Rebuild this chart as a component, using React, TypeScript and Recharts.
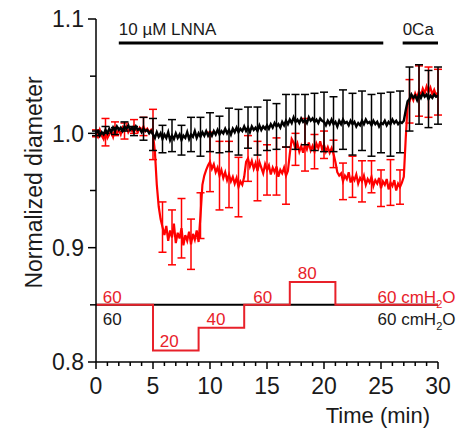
import React from "react";
import {
  ComposedChart, Line, XAxis, YAxis, ErrorBar, ReferenceLine, ReferenceDot,
} from "recharts";

const FONT = "'Liberation Sans', Arial, Helvetica, sans-serif";
const RED = "#ff0000";
const RED_TEXT = "#e8212a";
const INK = "#1a1a1a";

// diameter sampled every 10 s (1/6 min), 0 .. 30 min
const SAMPLE_MIN = 1 / 6;

const redDiameter = [
  1.000, 0.997, 1.003, 0.998, 0.995, 1.001, 0.996, 0.999, 1.002, 0.997, 1.004, 1.000,
  1.003, 0.999, 1.005, 1.002, 1.006, 1.001, 1.004, 1.002, 1.006, 1.003, 1.001, 1.005,
  1.003, 1.006, 1.002, 1.004, 1.001, 1.003,
  0.999, 0.984, 0.955, 0.936, 0.925, 0.918,
  0.911, 0.919, 0.906, 0.915, 0.909, 0.921, 0.904, 0.913, 0.908, 0.917, 0.902, 0.911,
  0.906, 0.914, 0.903, 0.912, 0.907, 0.915, 0.905,
  0.928, 0.955, 0.963, 0.968, 0.972, 0.975,
  0.969, 0.973, 0.966, 0.970, 0.963, 0.968, 0.961, 0.966, 0.959, 0.964, 0.958, 0.962,
  0.956, 0.961, 0.953, 0.958, 0.955,
  0.962, 0.975,
  0.978, 0.971, 0.976, 0.969, 0.974, 0.967, 0.975, 0.970, 0.965, 0.973, 0.968, 0.972,
  0.964, 0.970, 0.966, 0.971, 0.962, 0.968, 0.965, 0.970, 0.963, 0.967,
  0.982, 0.995, 0.992,
  0.986, 0.991, 0.984, 0.989, 0.983, 0.990, 0.986, 0.992, 0.985, 0.989, 0.984, 0.991,
  0.987, 0.993, 0.986, 0.990, 0.984, 0.988, 0.983, 0.987, 0.982,
  0.975, 0.966, 0.963,
  0.965, 0.958, 0.963, 0.960, 0.966, 0.957, 0.962, 0.959, 0.964, 0.956, 0.961, 0.958,
  0.963, 0.955, 0.960, 0.957, 0.962, 0.954, 0.959, 0.956, 0.961, 0.952, 0.958, 0.955,
  0.960, 0.951, 0.957, 0.954, 0.959, 0.950, 0.956, 0.953, 0.957,
  0.962, 0.995, 1.025,
  1.028, 1.033, 1.029, 1.035, 1.031, 1.037, 1.033, 1.039, 1.035, 1.041, 1.036, 1.040,
  1.034, 1.038, 1.033, 1.036,
];

const blackDiameter = [
  1.000, 1.002, 0.998, 1.001, 0.999, 1.003, 1.000, 1.004, 1.001, 1.005, 1.002, 1.006,
  1.003, 1.005, 1.002, 1.006, 1.004, 1.007, 1.003, 1.005, 1.002, 1.006, 1.003, 1.004,
  1.001, 1.004, 1.002, 1.003, 1.000, 1.002,
  0.999, 0.996, 1.001, 0.997, 1.000, 0.995, 0.999, 0.996, 1.001, 0.994, 0.998, 0.995,
  1.000, 0.996, 0.999, 0.994, 0.998, 0.996, 1.001, 0.995, 0.999, 0.997, 1.002, 0.996,
  1.000, 0.997, 1.001, 0.998, 1.002, 0.998,
  1.001, 0.998, 1.002, 0.999, 1.003, 0.999, 1.002, 1.000, 1.004, 1.000, 1.003, 0.999,
  1.004, 1.001, 1.005, 1.001, 1.004, 1.002, 1.006, 1.002, 1.005, 1.001, 1.006, 1.003,
  1.005, 1.002, 1.007, 1.003, 1.006, 1.004,
  1.007, 1.004, 1.008, 1.005, 1.009, 1.006, 1.008, 1.005, 1.010, 1.007, 1.011, 1.008,
  1.012, 1.009, 1.014, 1.010, 1.012, 1.009, 1.013, 1.010, 1.012, 1.009, 1.014, 1.011,
  1.013, 1.010, 1.012, 1.009, 1.013, 1.011,
  1.010, 1.007, 1.011, 1.008, 1.012, 1.008, 1.010, 1.006, 1.011, 1.008, 1.012, 1.009,
  1.010, 1.007, 1.011, 1.008, 1.010, 1.006, 1.009, 1.007, 1.011, 1.008, 1.012, 1.009,
  1.010, 1.007, 1.011, 1.008, 1.010, 1.006, 1.009, 1.008, 1.011, 1.007, 1.010, 1.008,
  1.012, 1.009, 1.011, 1.008, 1.010, 1.009, 1.011,
  1.020, 1.028,
  1.030, 1.034, 1.031, 1.033, 1.029, 1.034, 1.031, 1.035, 1.032, 1.034, 1.030, 1.033,
  1.031, 1.034, 1.032, 1.033,
];

// SEM, one bar every 50 s (every 5th sample)
const redSem = [
  0.003, 0.012, 0.006, 0.007, 0.006, 0.008, 0.022, 0.022, 0.024, 0.026, 0.022, 0.020,
  0.026, 0.030, 0.029, 0.026, 0.020, 0.026, 0.022, 0.025, 0.025, 0.014, 0.023, 0.015,
  0.012, 0.012, 0.016, 0.018, 0.018, 0.014, 0.016, 0.020, 0.015, 0.019, 0.022, 0.022,
  0.020,
];
const blackSem = [
  0.002, 0.003, 0.003, 0.004, 0.004, 0.010, 0.014, 0.012, 0.014, 0.013, 0.015, 0.017,
  0.017, 0.016, 0.019, 0.020, 0.018, 0.021, 0.022, 0.020, 0.023, 0.024, 0.022, 0.025,
  0.026, 0.024, 0.026, 0.027, 0.026, 0.027, 0.026, 0.028, 0.027, 0.028, 0.026, 0.025,
  0.025,
];

// intraluminal pressure protocol (cmH2O)
const stepTimes = [0, 5, 9, 13, 17, 21, 30];
const redPressure = [60, 20, 40, 60, 80, 60, 60];
const blackPressure = [60, 60, 60, 60, 60, 60, 60];

const xTicks = [
  0, 1, 2, 3, 4, 5, 6, 7, 8, 9, 10, 11, 12, 13, 14, 15,
  16, 17, 18, 19, 20, 21, 22, 23, 24, 25, 26, 27, 28, 29, 30,
];
const yTicks = [0.8, 0.85, 0.9, 0.95, 1.0, 1.05, 1.1];
const yLabelTicks = [0.8, 0.9, 1.0, 1.1];

const data = redDiameter.map((r, i) => ({
  t: i * SAMPLE_MIN,
  red: r,
  black: blackDiameter[i],
  redErr: i % 5 === 0 ? redSem[i / 5] : undefined,
  blackErr: i % 5 === 0 ? blackSem[i / 5] : undefined,
}));

// pressure trace drawn on the diameter axis: 60 cmH2O sits at 0.85
const pressureToY = (p: number) => 0.79 + p / 1000;
const stepData = stepTimes.map((t, i) => ({
  t,
  pRed: pressureToY(redPressure[i]),
  pBlack: pressureToY(blackPressure[i]),
}));

const notes = [
  { t: 0.6, y: 0.852, text: "60", color: RED_TEXT },
  { t: 0.6, y: 0.832, text: "60", color: INK },
  { t: 5.6, y: 0.8128, text: "20", color: RED_TEXT },
  { t: 9.7, y: 0.832, text: "40", color: RED_TEXT },
  { t: 13.8, y: 0.852, text: "60", color: RED_TEXT },
  { t: 17.7, y: 0.8725, text: "80", color: RED_TEXT },
  { t: 24.7, y: 0.852, text: "60 cmH2O", color: RED_TEXT },
  { t: 24.7, y: 0.832, text: "60 cmH2O", color: INK },
  { t: 2, y: 1.086, text: "10 µM LNNA", color: INK },
  { t: 26.9, y: 1.086, text: "0Ca", color: INK },
];

const XTick = (props: any) => {
  const { x, y, payload } = props;
  const major = payload.value % 5 === 0;
  return (
    <g>
      <line x1={x} x2={x} y1={y} y2={y + (major ? 7 : 4)} stroke="#000" strokeWidth={1.5} />
      {major && (
        <text x={x} y={y + 32} textAnchor="middle" fontSize={23} fontFamily={FONT} fill={INK}>
          {payload.value}
        </text>
      )}
    </g>
  );
};

const YTick = (props: any) => {
  const { x, y, payload } = props;
  const v = payload.value;
  const labeled = yLabelTicks.some((l) => Math.abs(l - v) < 1e-6);
  return (
    <g>
      <line x1={x - (labeled ? 8 : 6)} x2={x} y1={y} y2={y} stroke="#000" strokeWidth={1.5} />
      {labeled && (
        <text x={x - 12} y={y} dy="0.36em" textAnchor="end" fontSize={23} fontFamily={FONT} fill={INK}>
          {v.toFixed(1)}
        </text>
      )}
    </g>
  );
};

const NoteShape = (note: { text: string; color: string }) => (p: any) => {
  const isUnit = note.text.endsWith("cmH2O");
  return (
    <text x={p.cx} y={p.cy} fontSize={17} fontFamily={FONT} fill={note.color}>
      {isUnit ? (
        <>
          {note.text.replace("H2O", "H")}
          <tspan fontSize={11} dy={5}>2</tspan>
          <tspan dy={-5}>O</tspan>
        </>
      ) : (
        note.text
      )}
    </text>
  );
};

export default function App() {
  return (
    <div style={{ position: "absolute", left: 0, top: 0 }}>
      <ComposedChart
        width={464}
        height={432}
        data={data}
        margin={{ top: 19, right: 26, bottom: 0, left: 36 }}
      >
        <XAxis
          dataKey="t"
          type="number"
          domain={[0, 30]}
          ticks={xTicks}
          interval={0}
          allowDataOverflow
          tickSize={0}
          tickMargin={0}
          tickLine={false}
          tick={<XTick />}
          axisLine={{ stroke: "#000", strokeWidth: 1.5 }}
          height={70}
          label={{
            value: "Time (min)",
            content: (p: any) => (
              <text
                x={p.viewBox.x + p.viewBox.width - 8}
                y={p.viewBox.y + 61}
                textAnchor="end"
                fontSize={22}
                fontFamily={FONT}
                fill={INK}
              >
                Time (min)
              </text>
            ),
          }}
        />
        <YAxis
          type="number"
          domain={[0.8, 1.1]}
          ticks={yTicks}
          interval={0}
          allowDataOverflow
          tickSize={0}
          tickMargin={0}
          tickLine={false}
          tick={<YTick />}
          axisLine={{ stroke: "#000", strokeWidth: 1.5 }}
          width={60}
          label={{
            value: "Normalized diameter",
            content: (p: any) => {
              const cx = p.viewBox.x + 6;
              const cy = p.viewBox.y + p.viewBox.height / 2 - 8;
              return (
                <text
                  x={cx}
                  y={cy}
                  transform={`rotate(-90, ${cx}, ${cy})`}
                  textAnchor="middle"
                  fontSize={23}
                  fontFamily={FONT}
                  fill={INK}
                >
                  Normalized diameter
                </text>
              );
            },
          }}
        />

        <ReferenceLine
          segment={[{ x: 2, y: 1.079 }, { x: 25.2, y: 1.079 }]}
          stroke="#000"
          strokeWidth={3}
        />
        <ReferenceLine
          segment={[{ x: 26.9, y: 1.079 }, { x: 30, y: 1.079 }]}
          stroke="#000"
          strokeWidth={3}
        />

        <Line
          data={stepData}
          dataKey="pBlack"
          type="stepAfter"
          stroke="#000"
          strokeWidth={2}
          dot={false}
          isAnimationActive={false}
        />
        <Line
          data={stepData}
          dataKey="pRed"
          type="stepAfter"
          stroke={RED_TEXT}
          strokeWidth={2}
          dot={false}
          isAnimationActive={false}
        />

        <Line
          dataKey="red"
          type="linear"
          stroke={RED}
          strokeWidth={2.2}
          dot={false}
          isAnimationActive={false}
        >
          <ErrorBar dataKey="redErr" direction="y" width={4} stroke={RED} strokeWidth={1.5} />
        </Line>
        <Line
          dataKey="black"
          type="linear"
          stroke="#000"
          strokeWidth={2.4}
          dot={false}
          isAnimationActive={false}
        >
          <ErrorBar dataKey="blackErr" direction="y" width={4} stroke="#000" strokeWidth={1.5} />
        </Line>

        {notes.map((n, i) => (
          <ReferenceDot
            key={i}
            x={n.t}
            y={n.y}
            r={0}
            ifOverflow="visible"
            shape={NoteShape(n)}
          />
        ))}
      </ComposedChart>
    </div>
  );
}
